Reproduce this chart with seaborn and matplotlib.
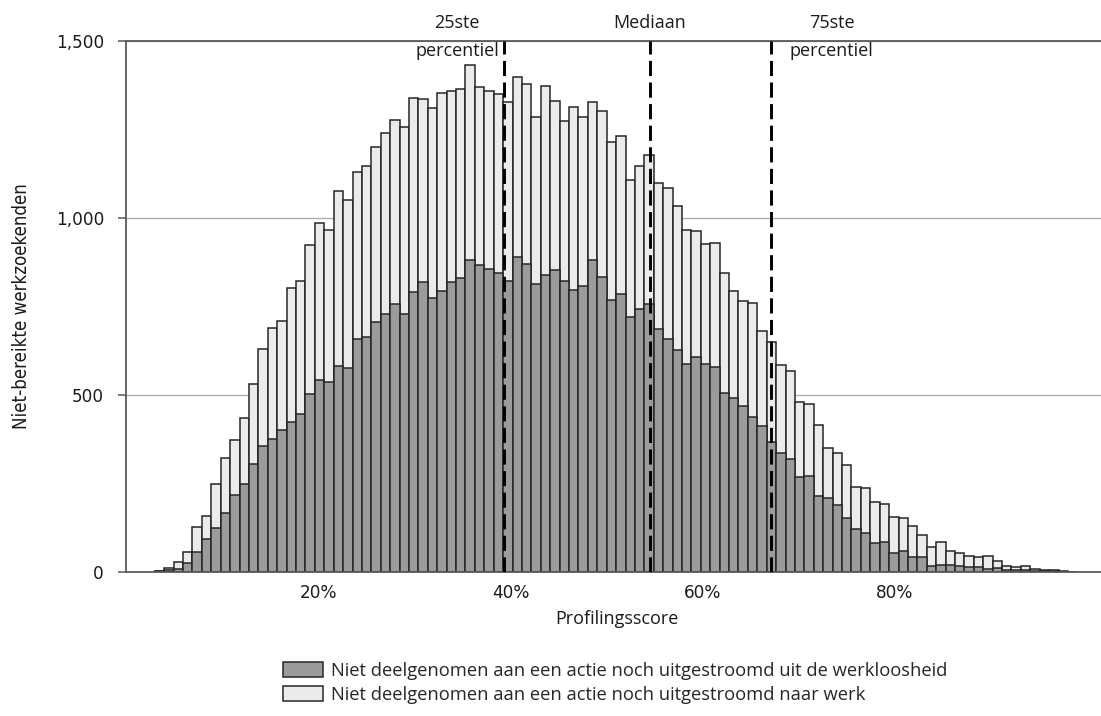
import numpy as np
import pandas as pd
import matplotlib
matplotlib.use("Agg")
import matplotlib.pyplot as plt
import seaborn as sns
from matplotlib import font_manager
from matplotlib.patches import Patch
from matplotlib.ticker import FuncFormatter, FixedLocator

# ---------------- data ----------------
score_start = 0.03
score_end = 0.99
# total height of each bar (light + dark)
total_count = [3, 10, 27, 56, 126, 159, 248, 321, 373, 436,
               532, 629, 688, 709, 801, 821, 924, 985, 965, 1077,
               1050, 1129, 1146, 1201, 1240, 1278, 1258, 1339, 1337, 1310,
               1352, 1358, 1364, 1433, 1369, 1359, 1350, 1327, 1399, 1379,
               1286, 1374, 1331, 1274, 1313, 1286, 1328, 1303, 1216, 1232,
               1108, 1146, 1179, 1099, 1085, 1035, 965, 963, 926, 928,
               845, 793, 766, 760, 680, 650, 584, 568, 479, 475,
               415, 350, 336, 301, 239, 237, 197, 193, 156, 153,
               129, 104, 71, 85, 60, 55, 45, 42, 45, 31,
               18, 15, 17, 9, 7, 7, 2, 1]
# dark part: not participated, not flowed out of unemployment
dark_count = [2, 5, 9, 26, 56, 94, 124, 167, 217, 250,
              305, 357, 375, 402, 423, 447, 502, 543, 537, 581,
              576, 658, 663, 706, 728, 757, 728, 792, 819, 774,
              793, 819, 831, 881, 866, 855, 845, 823, 891, 870,
              813, 840, 852, 821, 796, 807, 881, 834, 767, 785,
              721, 742, 757, 686, 658, 627, 587, 606, 587, 579,
              507, 492, 470, 439, 413, 366, 337, 320, 269, 272,
              214, 208, 189, 153, 121, 111, 82, 85, 55, 60,
              42, 41, 18, 20, 21, 16, 15, 15, 8, 12,
              7, 5, 5, 4, 3, 3, 1, 0.5]
percentile_values = [0.393, 0.5453, 0.6708]
percentile_labels = ["25ste\npercentiel", "Mediaan", "75ste\npercentiel"]
x_ticks = [0.2, 0.4, 0.6, 0.8]
y_ticks = [0, 500, 1000, 1500]
x_label = "Profilingsscore"
y_label = "Niet-bereikte werkzoekenden"
legend_labels = ["Niet deelgenomen aan een actie noch uitgestroomd uit de werkloosheid",
                 "Niet deelgenomen aan een actie noch uitgestroomd naar werk"]

edges = list(np.linspace(score_start, score_end, len(total_count) + 1))
centers = [(a + b) / 2 for a, b in zip(edges[:-1], edges[1:])]
df = pd.DataFrame({"score": centers, "totaal": total_count, "donker": dark_count})

# ---------------- style ----------------
sns.set_theme(style="white")
plt.rcParams['font.family'] = ['DejaVu Sans']
FIRA = ['Open Sans', 'DejaVu Sans']

has_condensed = any(f.name == "DejaVu Sans" and "condensed" in str(f.stretch)
                    for f in font_manager.fontManager.ttflist)
if has_condensed:
    ylab_kw = dict(fontstretch="condensed", fontsize=13.4)
else:
    ylab_kw = dict(fontsize=12.1)

DARK = "#9b9b9b"
LIGHT = "#ebebeb"
EDGE = "#262626"
SPINE = "#595959"
TXT = "#1a1a1a"

W, H = 1101, 716
fig = plt.figure(figsize=(W / 100, H / 100), dpi=100)
ax_left, ax_right, ax_top, ax_bottom = 126, 1101, 41, 572
ax = fig.add_axes([ax_left / W, 1 - ax_bottom / H, (ax_right - ax_left) / W, (ax_bottom - ax_top) / H])

sns.histplot(data=df, x="score", weights="totaal", bins=edges, color=LIGHT,
             edgecolor=EDGE, linewidth=1.1, alpha=1, ax=ax)
sns.histplot(data=df, x="score", weights="donker", bins=edges, color=DARK,
             edgecolor=EDGE, linewidth=1.1, alpha=1, ax=ax)

px_per_unit = 961.0
ax.set_xlim(0, (ax_right - ax_left) / px_per_unit)
ax.set_ylim(0, 1500)

ax.yaxis.set_major_locator(FixedLocator(y_ticks))
ax.yaxis.set_major_formatter(FuncFormatter(lambda v, p: f"{int(v):,}"))
ax.xaxis.set_major_locator(FixedLocator(x_ticks))
ax.xaxis.set_major_formatter(FuncFormatter(lambda v, p: f"{v:.0%}"))

ax.yaxis.grid(True, color="#a8a8a8", linewidth=0.9)
ax.xaxis.grid(False)
ax.set_axisbelow(True)

for s in ["left", "top", "bottom"]:
    ax.spines[s].set_visible(True)
    ax.spines[s].set_color(SPINE)
    ax.spines[s].set_linewidth(1.3)
ax.spines["right"].set_visible(False)

ax.tick_params(axis="y", which="major", left=True, length=5.8, width=1.1,
               color=SPINE, pad=10, labelsize=12.2, labelcolor=TXT)
ax.tick_params(axis="x", which="major", bottom=False, length=0, pad=8.5,
               labelsize=12.2, labelcolor=TXT)

ax.set_xlabel(x_label, family=FIRA, fontsize=13, color=TXT)
ax.xaxis.set_label_coords((616.5 - ax_left) / (ax_right - ax_left),
                          -(610 - ax_bottom) / (ax_bottom - ax_top))
ax.set_ylabel(y_label, color=TXT, **ylab_kw)
ax.yaxis.set_label_coords(-(ax_left - 31) / (ax_right - ax_left), 0.5)

# percentile lines + labels
for v in percentile_values:
    ax.axvline(v, color="black", linewidth=2.1, linestyle=(0, (5.2, 2.2)), zorder=5)

offsets = [(-3.5, 3.2, "right"), (0, 13, "center"), (13.7, 3.2, "left")]
for v, lab, (dx, dy, ha) in zip(percentile_values, percentile_labels, offsets):
    ax.annotate(lab, xy=(v, 1500), xycoords="data", xytext=(dx, dy),
                textcoords="offset points", ha=ha, va="center",
                multialignment="center", family=FIRA, fontsize=13,
                color=TXT, linespacing=1.72, annotation_clip=False)

handles = [Patch(facecolor=DARK, edgecolor=EDGE, linewidth=1.1),
           Patch(facecolor=LIGHT, edgecolor=EDGE, linewidth=1.1)]
fig.legend(handles, legend_labels, loc="upper left",
           bbox_to_anchor=(283 / W, 1 - 661.5 / H), frameon=False,
           prop={"family": FIRA, "size": 13.2}, handlelength=2.19,
           handleheight=0.87, handletextpad=0.42, labelspacing=0.36,
           borderpad=0, borderaxespad=0)

fig.savefig("out.png", dpi=100)
